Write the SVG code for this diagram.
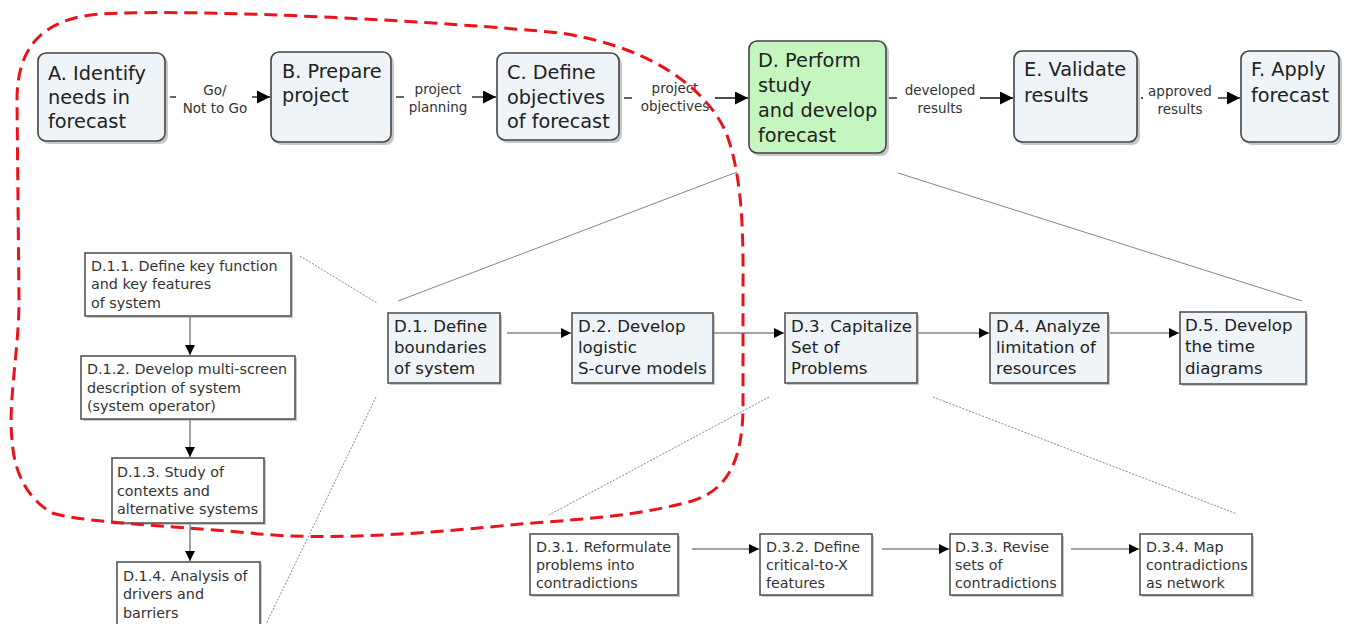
<svg xmlns="http://www.w3.org/2000/svg" width="1347" height="624" viewBox="0 0 1347 624">
<defs>
<style>
text{font-family:"DejaVu Sans","Verdana",sans-serif;fill:#222}
.t1{font-size:19.3px}
.t2{font-size:16.6px}
.t3{font-size:14.3px;fill:#333}
.lb{font-size:13.5px;fill:#333;text-anchor:middle}
.sh{fill:#9a9a9a;opacity:.55}
.top{fill:#eef4f7;stroke:#444;stroke-width:1.6}
.green{fill:#c6f6c0;stroke:#444;stroke-width:1.6}
.mid{fill:#eef4f7;stroke:#555;stroke-width:1.6}
.wht{fill:#fff;stroke:#555;stroke-width:1.6}
.c{stroke:#111;stroke-width:1.3;fill:none}
.c2{stroke:#444;stroke-width:1;fill:none}
.z{stroke:#666;stroke-width:0.8;fill:none}
.zd{stroke:#666;stroke-width:0.8;fill:none;stroke-dasharray:2 1.5}
.red{stroke:#e8131b;stroke-width:3;fill:none;stroke-dasharray:13 7}
</style>
<marker id="ab" viewBox="0 0 10 10" refX="10" refY="5" markerWidth="13" markerHeight="13" markerUnits="userSpaceOnUse" orient="auto"><path d="M0,0 L10,5 L0,10 Z" fill="#000"/></marker>
<marker id="as" viewBox="0 0 10 10" refX="10" refY="5" markerWidth="10" markerHeight="10" markerUnits="userSpaceOnUse" orient="auto"><path d="M0,0 L10,5 L0,10 Z" fill="#000"/></marker>
</defs>
<rect width="1347" height="624" fill="#fff"/>

<g id="zoomlines">
<line class="z" x1="737" y1="172" x2="398" y2="301"/>
<line class="z" x1="898" y1="173" x2="1302" y2="301"/>
<line class="zd" x1="300" y1="256" x2="377" y2="303"/>
<line class="zd" x1="376" y1="397" x2="266" y2="624"/>
<line class="zd" x1="769" y1="397" x2="549" y2="515"/>
<line class="zd" x1="933" y1="397" x2="1237" y2="514"/>
</g>

<g id="connectors">
<line class="c" x1="170" y1="97" x2="176" y2="97"/>
<line class="c" x1="252" y1="97" x2="270" y2="97" marker-end="url(#ab)"/>
<line class="c" x1="396" y1="97" x2="404" y2="97"/>
<line class="c" x1="472" y1="97" x2="496" y2="97" marker-end="url(#ab)"/>
<line class="c" x1="624" y1="98" x2="632" y2="98"/>
<line class="c" x1="715" y1="98" x2="748" y2="98" marker-end="url(#ab)"/>
<line class="c" x1="889" y1="98" x2="897" y2="98"/>
<line class="c" x1="980" y1="98" x2="1013" y2="98" marker-end="url(#ab)"/>
<line class="c" x1="1141" y1="98" x2="1143" y2="98"/>
<line class="c" x1="1218" y1="98" x2="1240" y2="98" marker-end="url(#ab)"/>
<text class="lb" x="215" y="95">Go/</text>
<text class="lb" x="215" y="113">Not to Go</text>
<text class="lb" x="438" y="94">project</text>
<text class="lb" x="438" y="112">planning</text>
<text class="lb" x="675" y="93">project</text>
<text class="lb" x="675" y="111">objectives</text>
<text class="lb" x="940" y="95">developed</text>
<text class="lb" x="940" y="113">results</text>
<text class="lb" x="1180" y="96">approved</text>
<text class="lb" x="1180" y="114">results</text>

<line class="c2" x1="507" y1="333" x2="571" y2="333" marker-end="url(#as)"/>
<line class="c2" x1="713" y1="333" x2="784" y2="333" marker-end="url(#as)"/>
<line class="c2" x1="918" y1="333" x2="989" y2="333" marker-end="url(#as)"/>
<line class="c2" x1="1110" y1="333" x2="1179" y2="333" marker-end="url(#as)"/>

<line class="c2" x1="190" y1="317" x2="190" y2="355" marker-end="url(#as)"/>
<line class="c2" x1="190" y1="420" x2="190" y2="457" marker-end="url(#as)"/>
<line class="c2" x1="190" y1="524" x2="190" y2="561" marker-end="url(#as)"/>

<line class="c2" x1="692" y1="549" x2="759" y2="549" marker-end="url(#as)"/>
<line class="c2" x1="882" y1="549" x2="949" y2="549" marker-end="url(#as)"/>
<line class="c2" x1="1071" y1="549" x2="1139" y2="549" marker-end="url(#as)"/>
</g>

<g id="A"><rect class="sh" x="41" y="56" width="127" height="88" rx="8"/><rect class="top" x="38" y="53" width="127" height="88" rx="8"/>
<text class="t1" x="48" y="80">A. Identify</text><text class="t1" x="48" y="104">needs in</text><text class="t1" x="48" y="128">forecast</text></g>
<g id="B"><rect class="sh" x="274" y="55" width="120" height="90" rx="8"/><rect class="top" x="271" y="52" width="120" height="90" rx="8"/>
<text class="t1" x="282" y="78">B. Prepare</text><text class="t1" x="282" y="102">project</text></g>
<g id="C"><rect class="sh" x="500" y="56" width="122" height="87" rx="8"/><rect class="top" x="497" y="53" width="122" height="87" rx="8"/>
<text class="t1" x="507" y="79">C. Define</text><text class="t1" x="507" y="104">objectives</text><text class="t1" x="507" y="128">of forecast</text></g>
<g id="D"><rect class="sh" x="752" y="44" width="137" height="112" rx="8"/><rect class="green" x="749" y="41" width="137" height="112" rx="8"/>
<text class="t1" x="758" y="67">D. Perform</text><text class="t1" x="758" y="92">study</text><text class="t1" x="758" y="117">and develop</text><text class="t1" x="758" y="142">forecast</text></g>
<g id="E"><rect class="sh" x="1017" y="54" width="123" height="91" rx="8"/><rect class="top" x="1014" y="51" width="123" height="91" rx="8"/>
<text class="t1" x="1024" y="76">E. Validate</text><text class="t1" x="1024" y="102">results</text></g>
<g id="F"><rect class="sh" x="1244" y="54" width="98" height="91" rx="8"/><rect class="top" x="1241" y="51" width="98" height="91" rx="8"/>
<text class="t1" x="1251" y="76">F. Apply</text><text class="t1" x="1251" y="102">forecast</text></g>

<g id="D1"><rect class="sh" x="390" y="315" width="112" height="70"/><rect class="mid" x="388" y="313" width="112" height="70"/>
<text class="t2" x="394" y="332">D.1. Define</text><text class="t2" x="394" y="353">boundaries</text><text class="t2" x="394" y="374">of system</text></g>
<g id="D2"><rect class="sh" x="574" y="315" width="141" height="70"/><rect class="mid" x="572" y="313" width="141" height="70"/>
<text class="t2" x="578" y="332">D.2. Develop</text><text class="t2" x="578" y="353">logistic</text><text class="t2" x="578" y="374">S-curve models</text></g>
<g id="D3"><rect class="sh" x="787" y="315" width="132" height="70"/><rect class="mid" x="785" y="313" width="132" height="70"/>
<text class="t2" x="791" y="332">D.3. Capitalize</text><text class="t2" x="791" y="353">Set of</text><text class="t2" x="791" y="374">Problems</text></g>
<g id="D4"><rect class="sh" x="992" y="315" width="118" height="70"/><rect class="mid" x="990" y="313" width="118" height="70"/>
<text class="t2" x="996" y="332">D.4. Analyze</text><text class="t2" x="996" y="353">limitation of</text><text class="t2" x="996" y="374">resources</text></g>
<g id="D5"><rect class="sh" x="1182" y="314" width="126" height="72"/><rect class="mid" x="1180" y="312" width="126" height="72"/>
<text class="t2" x="1185" y="331">D.5. Develop</text><text class="t2" x="1185" y="352">the time</text><text class="t2" x="1185" y="374">diagrams</text></g>

<g id="D11"><rect class="sh" x="87" y="255" width="206" height="63"/><rect class="wht" x="85" y="253" width="206" height="63"/>
<text class="t3" x="91" y="271">D.1.1. Define key function</text><text class="t3" x="91" y="289">and key features</text><text class="t3" x="91" y="308">of system</text></g>
<g id="D12"><rect class="sh" x="83" y="358" width="214" height="63"/><rect class="wht" x="81" y="356" width="214" height="63"/>
<text class="t3" x="87" y="374">D.1.2. Develop multi-screen</text><text class="t3" x="87" y="393">description of system</text><text class="t3" x="87" y="411">(system operator)</text></g>
<g id="D13"><rect class="sh" x="114" y="460" width="152" height="65"/><rect class="wht" x="112" y="458" width="152" height="65"/>
<text class="t3" x="117" y="477">D.1.3. Study of</text><text class="t3" x="117" y="496">contexts and</text><text class="t3" x="117" y="514">alternative systems</text></g>
<g id="D14"><rect class="sh" x="119" y="564" width="143" height="70"/><rect class="wht" x="117" y="562" width="143" height="70"/>
<text class="t3" x="123" y="581">D.1.4. Analysis of</text><text class="t3" x="123" y="599">drivers and</text><text class="t3" x="123" y="618">barriers</text></g>

<g id="D31"><rect class="sh" x="532" y="536" width="148" height="61"/><rect class="wht" x="530" y="534" width="148" height="61"/>
<text class="t3" x="536" y="552">D.3.1. Reformulate</text><text class="t3" x="536" y="570">problems into</text><text class="t3" x="536" y="588">contradictions</text></g>
<g id="D32"><rect class="sh" x="762" y="536" width="112" height="61"/><rect class="wht" x="760" y="534" width="112" height="61"/>
<text class="t3" x="766" y="552">D.3.2. Define</text><text class="t3" x="766" y="570">critical-to-X</text><text class="t3" x="766" y="588">features</text></g>
<g id="D33"><rect class="sh" x="952" y="536" width="112" height="61"/><rect class="wht" x="950" y="534" width="112" height="61"/>
<text class="t3" x="955" y="552">D.3.3. Revise</text><text class="t3" x="955" y="570">sets of</text><text class="t3" x="955" y="588">contradictions</text></g>
<g id="D34"><rect class="sh" x="1142" y="536" width="112" height="61"/><rect class="wht" x="1140" y="534" width="112" height="61"/>
<text class="t3" x="1146" y="552">D.3.4. Map</text><text class="t3" x="1146" y="570">contradictions</text><text class="t3" x="1146" y="588">as network</text></g>

<path class="red" d="M12,440 C8,400 19,350 19,300 L17,100 C17,40 50,18 100,14 C200,8 450,22 560,33 C640,45 700,80 725,130 C745,180 743,250 743,300 L743,410 C742,460 728,490 692,501 C640,515 600,518 520,524 C440,532 330,542 250,533 C160,525 80,522 52,513 C25,497 14,470 12,440 Z"/>
</svg>
